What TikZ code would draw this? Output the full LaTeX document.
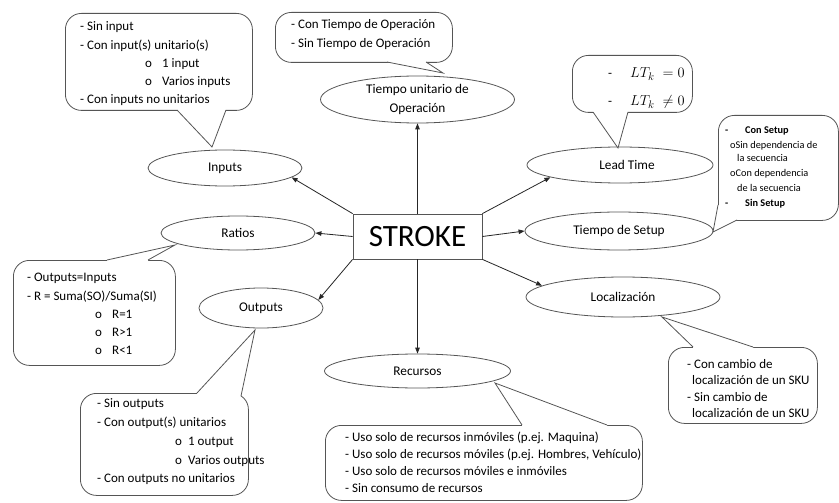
\documentclass[tikz,border=0pt]{standalone}
\usepackage{fontspec}
\setmainfont{Carlito}
\usetikzlibrary{shapes.geometric,arrows.meta}
\definecolor{linegray}{HTML}{555555}
\begin{document}
\begin{tikzpicture}[x=1pt,y=-1pt,
  ell/.style={ellipse,draw=linegray,line width=0.8pt,inner sep=0pt,align=center,font=\fontsize{13.3}{19}\selectfont},
  callbox/.style={draw=linegray,line width=0.8pt,rounded corners=16pt,inner sep=0pt,anchor=north west},
  ptr/.style={draw=linegray,line width=0.8pt,line join=miter},
  txt/.style={anchor=base west,inner sep=0pt,font=\fontsize{13}{15}\selectfont},
  stxt/.style={anchor=base west,inner sep=0pt,font=\fontsize{10.3}{12}\selectfont},
  mtxt/.style={anchor=base west,inner sep=0pt,font=\fontsize{15}{18}\selectfont},
  arr/.style={-{Triangle[length=6pt,width=4.5pt]},line width=0.8pt,draw=black!85}]
\fill[white] (0,0) rectangle (839,503);
\useasboundingbox (0,0) rectangle (839,503);

% central box
\node[draw=linegray,line width=0.8pt,minimum width=129pt,minimum height=45pt,inner sep=0pt,
      font=\fontsize{31}{33}\selectfont] (stroke) at (417.5,236.5) {STROKE};

% ellipses
\node[ell,minimum width=194pt,minimum height=47pt] (tuo) at (417.5,99.5) {Tiempo unitario de\\Operación};
\node[ell,minimum width=154pt,minimum height=36pt] (inputs) at (225,168) {Inputs};
\node[ell,minimum width=154pt,minimum height=34pt] (ratios) at (238,233) {Ratios};
\node[ell,minimum width=124pt,minimum height=40pt] (outputs) at (261,308) {Outputs};
\node[ell,minimum width=186pt,minimum height=34pt] (recursos) at (417.5,371) {Recursos};
\node[ell,minimum width=194pt,minimum height=40pt] (local) at (623,297) {Localización};
\node[ell,minimum width=188pt,minimum height=38pt] (setup) at (619,231) {Tiempo de Setup};
\node[ell,minimum width=186pt,minimum height=36pt] (lead) at (620,165) {\hspace*{14pt}Lead Time};

% arrows
\draw[arr] (stroke.north) -- (tuo.south);
\draw[arr] (stroke.south) -- (recursos.north);
\draw[arr] (stroke.north west) -- (inputs.-8);
\draw[arr] (stroke.west) -- (ratios.east);
\draw[arr] (stroke.south west) -- (outputs.8);
\draw[arr] (stroke.north east) -- (lead.190);
\draw[arr] (stroke.east) -- (setup.west);
\draw[arr] (stroke.south east) -- (local.172);

% callout: inputs
\node[callbox,minimum width=187pt,minimum height=97pt] (cin) at (65,13) {};
\fill[white] (177,110) -- (212,147) -- (226,110) -- (226,106) -- (177,106) -- cycle;
\draw[ptr] (177,110) -- (212,147) -- (226,110);
\node[txt] (in1) at (80,31) {- Sin input};
\node[txt] (in2) at (80,50) {- Con input(s) unitario(s)};
\node[txt] (in3a) at (145,68) {o};
\node[txt] (in3) at (162,68) {1 input};
\node[txt] (in4a) at (145,86) {o};
\node[txt] (in4) at (162,86) {Varios inputs};
\node[txt] (in5) at (80,104) {- Con inputs no unitarios};

% callout: tiempo unitario
\node[callbox,minimum width=177pt,minimum height=50pt] (ctuo) at (275,12) {};
\fill[white] (387,62) -- (443,73) -- (426,62) -- (426,58) -- (387,58) -- cycle;
\draw[ptr] (387,62) -- (443,73) -- (426,62);
\node[txt] (tu1) at (291,29) {- Con Tiempo de Operación};
\node[txt] (tu2) at (291,48) {- Sin Tiempo de Operación};

% callout: lead time
\node[callbox,minimum width=120pt,minimum height=57pt] (clead) at (572,55) {};
\fill[white] (593,112) -- (618,148) -- (628,112) -- (628,108) -- (593,108) -- cycle;
\draw[ptr] (593,112) -- (618,148) -- (628,112);
\node[txt] (ld1a) at (608,78) {-};
\node[mtxt] (ld1) at (630,78) {$LT_k\;=0$};
\node[txt] (ld2a) at (608,106) {-};
\node[mtxt] (ld2) at (630,106) {$LT_k\;\neq 0$};

% callout: setup
\node[callbox,minimum width=120pt,minimum height=105pt] (csetup) at (718,115) {};
\fill[white] (718,205) -- (713,232) -- (737,220) -- (730,208) -- cycle;
\draw[ptr] (718,205) -- (713,232) -- (737,220);
\node[stxt] (su1a) at (725,133.5) {\bfseries -};
\node[stxt] (su1) at (745,133.5) {\bfseries Con Setup};
\node[stxt] (su2) at (730,149) {oSin dependencia de};
\node[stxt] (su3) at (737,161.5) {la secuencia};
\node[stxt] (su4) at (730,176.5) {oCon dependencia};
\node[stxt] (su5) at (737,191) {de la secuencia};
\node[stxt] (su6a) at (725,206) {\bfseries -};
\node[stxt] (su6) at (745,206) {\bfseries Sin Setup};

% callout: ratios
\node[callbox,minimum width=162pt,minimum height=105pt] (cratios) at (13,260) {};
\fill[white] (107,260) -- (175,245) -- (148,260) -- (148,264) -- (107,264) -- cycle;
\draw[ptr] (107,260) -- (175,245) -- (148,260);
\node[txt] (ra1) at (27,281) {- Outputs=Inputs};
\node[txt] (ra2) at (27,300) {- R = Suma(SO)/Suma(SI)};
\node[txt] (ra3a) at (95,318) {o};
\node[txt] (ra3) at (112,318) {R=1};
\node[txt] (ra4a) at (95,336) {o};
\node[txt] (ra4) at (112,336) {R>1};
\node[txt] (ra5a) at (95,354) {o};
\node[txt] (ra5) at (112,354) {R<1};

% callout: outputs
\node[callbox,minimum width=168pt,minimum height=102pt] (cout) at (80,393) {};
\fill[white] (197,393) -- (255,330) -- (241,396) -- (236,400) -- (197,398) -- cycle;
\draw[ptr] (197,393) -- (255,330) -- (241,396);
\node[txt] (ou1) at (97,407) {- Sin outputs};
\node[txt] (ou2) at (97,426) {- Con output(s) unitarios};
\node[txt] (ou3a) at (175,445) {o};
\node[txt] (ou3) at (188,445) {1 output};
\node[txt] (ou4a) at (175,464) {o};
\node[txt] (ou4) at (188,464) {Varios outputs};
\node[txt] (ou5) at (97,482) {- Con outputs no unitarios};

% callout: recursos
\node[callbox,minimum width=317pt,minimum height=75pt] (crec) at (325,425) {};
\fill[white] (522,425) -- (495,383) -- (607,425) -- (607,429) -- (522,429) -- cycle;
\draw[ptr] (522,425) -- (495,383) -- (607,425);
\node[txt] (re1) at (345,441) {- Uso solo de recursos inmóviles (p.ej. Maquina)};
\node[txt] (re2) at (345,458) {- Uso solo de recursos móviles (p.ej. Hombres, Vehículo)};
\node[txt] (re3) at (345,475) {- Uso solo de recursos móviles e inmóviles};
\node[txt] (re4) at (345,492) {- Sin consumo de recursos};

% callout: localizacion
\node[callbox,minimum width=149pt,minimum height=76pt] (cloc) at (668,347) {};
\fill[white] (693,347) -- (662,317) -- (753,347) -- (753,351) -- (693,351) -- cycle;
\draw[ptr] (693,347) -- (662,317) -- (753,347);
\node[txt] (lo1) at (687,368) {- Con cambio de};
\node[txt] (lo2) at (692,384) {localización de un SKU};
\node[txt] (lo3) at (687,401) {- Sin cambio de};
\node[txt] (lo4) at (692,417) {localización de un SKU};
\end{tikzpicture}
\end{document}
